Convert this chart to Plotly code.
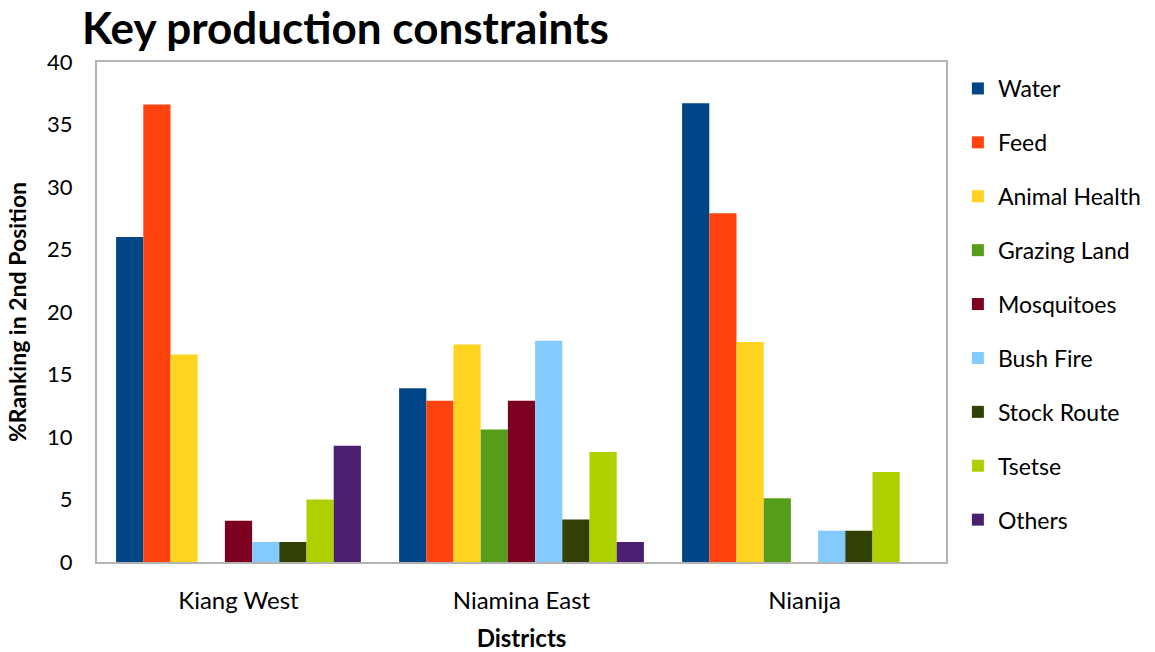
import plotly.graph_objects as go

districts = ["Kiang West", "Niamina East", "Nianija"]
series_names = ["Water", "Feed", "Animal Health", "Grazing Land", "Mosquitoes",
                "Bush Fire", "Stock Route", "Tsetse", "Others"]
water = [26.0, 13.9, 36.7]
feed = [36.6, 12.9, 27.9]
animal_health = [16.6, 17.4, 17.6]
grazing_land = [0, 10.6, 5.1]
mosquitoes = [3.3, 12.9, 0]
bush_fire = [1.6, 17.7, 2.5]
stock_route = [1.6, 3.4, 2.5]
tsetse = [5.0, 8.8, 7.2]
others = [9.3, 1.6, 0]
colors = ["#004586", "#ff420e", "#ffd320", "#579d1c", "#7e0021",
          "#83caff", "#314004", "#aecf00", "#4b1f6f"]

values = [water, feed, animal_health, grazing_land, mosquitoes,
          bush_fire, stock_route, tsetse, others]

fig = go.Figure()
for name, vals, col in zip(series_names, values, colors):
    fig.add_trace(go.Bar(x=districts, y=vals, name=name, legendgroup=name,
                         marker=dict(color=col, line=dict(width=0))))

font_family = "Lato, 'Open Sans', sans-serif"
fig.update_layout(
    width=1155, height=652,
    margin=dict(l=97, r=209, t=62, b=90, autoexpand=False),
    paper_bgcolor="white", plot_bgcolor="white",
    barmode="group", bargap=0.135, bargroupgap=0,
    font=dict(family=font_family, size=22, color="black"),
    title=dict(text="<b>Key production constraints</b>", x=0.071, xanchor="left",
               y=0.98, yanchor="top", font=dict(size=44, family=font_family)),
    legend=dict(x=1.014, xanchor="left", y=0.99, yanchor="top",
                font=dict(size=23), tracegroupgap=21, itemwidth=30,
                bgcolor="rgba(0,0,0,0)"),
    showlegend=True,
)
fig.update_xaxes(showline=True, linecolor="#b3b3b3", linewidth=2, mirror=True,
                 showgrid=False, ticks="", tickfont=dict(size=24),
                 ticklabelstandoff=16, automargin=False,
                 title=dict(text="<b>Districts</b>", font=dict(size=24), standoff=20))
fig.update_yaxes(range=[0, 40], dtick=5, showline=True, linecolor="#b3b3b3",
                 linewidth=2, mirror=True, showgrid=False, ticks="",
                 tickfont=dict(size=22), zeroline=False, ticklabelstandoff=18,
                 automargin=False,
                 title=dict(text="<b>%Ranking in 2nd Position</b>", font=dict(size=23),
                            standoff=14))
fig.write_html("out.html")
